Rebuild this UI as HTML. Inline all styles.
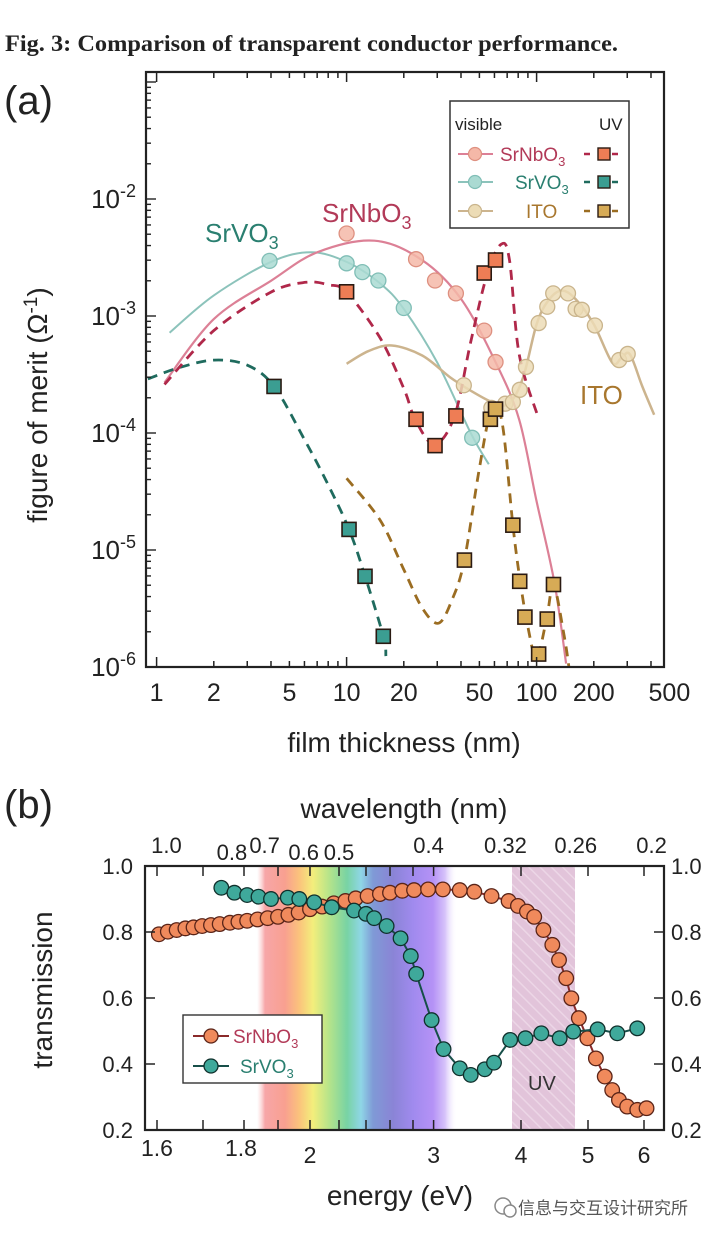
<!DOCTYPE html>
<html><head><meta charset="utf-8"><style>
html,body{margin:0;padding:0;background:#fff;}
svg{display:block;font-family:"Liberation Sans",sans-serif;}
</style></head><body>
<svg id="fig" width="720" height="1240" viewBox="0 0 720 1240" xmlns="http://www.w3.org/2000/svg">
<defs>
<clipPath id="clipA"><rect x="146" y="72" width="518" height="595"/></clipPath>
<clipPath id="clipB"><rect x="145" y="866" width="519" height="264"/></clipPath>
<linearGradient id="spec" x1="0" x2="1" y1="0" y2="0">
<stop offset="0" stop-color="#fbd0d0" stop-opacity="0"/>
<stop offset="0.04" stop-color="#f7a6a8"/>
<stop offset="0.14" stop-color="#f8a090"/>
<stop offset="0.21" stop-color="#fbc27c"/>
<stop offset="0.28" stop-color="#f3ee7c"/>
<stop offset="0.36" stop-color="#b6e48a"/>
<stop offset="0.45" stop-color="#78d3a4"/>
<stop offset="0.52" stop-color="#8fd6e6"/>
<stop offset="0.58" stop-color="#7f9ad6"/>
<stop offset="0.68" stop-color="#8a84d6"/>
<stop offset="0.78" stop-color="#a08aee"/>
<stop offset="0.88" stop-color="#b592f6"/>
<stop offset="0.94" stop-color="#d6c2fa"/>
<stop offset="1" stop-color="#ffffff" stop-opacity="0"/>
</linearGradient>
<pattern id="hatch" width="8" height="8" patternUnits="userSpaceOnUse" patternTransform="rotate(-45)">
<rect width="8" height="8" fill="#e2c4da"/>
<line x1="0" y1="0" x2="0" y2="8" stroke="#ecd6e6" stroke-width="3"/>
</pattern>
</defs>

<text x="5" y="51" font-family="Liberation Serif, serif" font-weight="bold" font-size="23" textLength="613" lengthAdjust="spacingAndGlyphs" fill="#222">Fig. 3: Comparison of transparent conductor performance.</text>
<text x="4" y="114" font-size="40" fill="#222">(a)</text>
<text x="4" y="818" font-size="40" fill="#222">(b)</text>

<g id="panelA"></g>
<g id="panelB"></g>

<g>
<circle cx="503" cy="1206" r="8" fill="none" stroke="#888" stroke-width="1.5"/>
<circle cx="510" cy="1211" r="6" fill="#fff" stroke="#888" stroke-width="1.5"/>
<text x="518" y="1214" font-family="Liberation Sans, Noto Sans CJK SC, sans-serif" font-size="17" fill="#555">信息与交互设计研究所</text>
</g>
</svg>
<script>
// ===== Panel (a) data: film thickness (nm) vs figure of merit =====
const nbVisX=[10,23.2,29.2,37.6,53,60.8];
const nbVisY=[5.07e-3,3.06e-3,2.01e-3,1.56e-3,7.5e-4,4.04e-4];
const nbUvX=[10,23.2,29.2,37.6,53,60.8];
const nbUvY=[1.61e-3,1.31e-4,7.8e-5,1.4e-4,2.33e-3,3.01e-3];
const vVisX=[3.93,10,12.1,14.7,20,45.8];
const vVisY=[2.96e-3,2.82e-3,2.37e-3,2.01e-3,1.17e-3,9.1e-5];
const vUvX=[4.15,10.3,12.5,15.6];
const vUvY=[2.5e-4,1.5e-5,5.96e-6,1.83e-6];
const itoVisX=[41.4,57.8,68.4,75,81.5,87.9,102.5,113.8,122.3,146.3,160.4,173,202.7,271.8,301.7];
const itoVisY=[2.56e-4,1.64e-4,1.78e-4,1.84e-4,2.34e-4,3.67e-4,8.7e-4,1.2e-3,1.56e-3,1.56e-3,1.15e-3,1.13e-3,8.3e-4,4.2e-4,4.74e-4];
const itoUvX=[41.7,57.1,60.8,75,81.5,86.8,102.5,113.8,122.7];
const itoUvY=[8.2e-6,1.31e-4,1.6e-4,1.63e-5,5.4e-6,2.67e-6,1.29e-6,2.57e-6,5.07e-6];
// fitted curves
const fitNbVisX=[1.1,2,4,7,14,25,40,61,81,100,124,143];
const fitNbVisY=[2.7e-4,9.4e-4,2e-3,3.5e-3,4.4e-3,3e-3,1.4e-3,4e-4,1.3e-4,2.6e-5,5.3e-6,1.07e-6];
const fitNbUvX=[1.1,2,4,6.1,8,10,15,20,23,29,37,45,55,65,72,81,102];
const fitNbUvY=[2.6e-4,7.5e-4,1.6e-3,1.94e-3,1.85e-3,1.6e-3,6.5e-4,2.4e-4,1.3e-4,8e-5,1.4e-4,6e-4,2.3e-3,4.1e-3,3e-3,4.7e-4,1.36e-4];
const fitVVisX=[1.17,2,4,6.5,10,15,20,30,45,56];
const fitVVisY=[7.2e-4,1.5e-3,2.9e-3,3.5e-3,2.9e-3,1.9e-3,1.15e-3,4e-4,1e-4,5.4e-5];
const fitVUvX=[0.9,1.3,2,3,4.15,6,8,10.3,12.5,15.6,16.1];
const fitVUvY=[2.9e-4,3.6e-4,4.2e-4,3.8e-4,2.5e-4,8.8e-5,3.6e-5,1.5e-5,6e-6,1.83e-6,1.24e-6];
const fitItoVisX=[10,13,17.3,25,35,45,60,72,85,100,115,135,160,200,250,280,310,360,416];
const fitItoVisY=[3.9e-4,5e-4,5.6e-4,4.6e-4,3e-4,2.3e-4,1.8e-4,1.8e-4,3e-4,8.5e-4,1.35e-3,1.65e-3,1.4e-3,8.5e-4,4e-4,4.4e-4,4.7e-4,2.5e-4,1.43e-4];
const fitItoUvX=[10,15,20,25,30.5,36,41.7,50,58,66,75,82,90,100,113,123,140,148];
const fitItoUvY=[4.1e-5,1.8e-5,6.8e-6,3.2e-6,2.37e-6,3.8e-6,8.2e-6,5e-5,1.6e-4,1.2e-4,1.63e-5,5.4e-6,2.2e-6,1.2e-6,2.6e-6,5e-6,1.8e-6,1e-6];
const xTickLabelsA=[1,2,5,10,20,50,100,200,500];
const yTickExpA=[-2,-3,-4,-5,-6];

// ===== Panel (b) data: energy (eV) vs transmission =====
const nbE=[1.604,1.623,1.642,1.661,1.679,1.698,1.719,1.74,1.765,1.786,1.809,1.839,1.869,1.9,1.932,1.964,2.0,2.081,2.163,2.246,2.322,2.413,2.514,2.6,2.705,2.81,2.945,3.093,3.27,3.43,3.63,3.84,3.96,4.08,4.18,4.31,4.44,4.54,4.65,4.73,4.85,4.99,5.13,5.28,5.41,5.53,5.68,5.87,6.05];
const nbT=[0.793,0.801,0.806,0.811,0.814,0.818,0.821,0.824,0.828,0.831,0.834,0.838,0.842,0.846,0.852,0.859,0.869,0.877,0.887,0.894,0.902,0.909,0.915,0.919,0.925,0.927,0.929,0.929,0.927,0.922,0.909,0.894,0.879,0.862,0.846,0.806,0.761,0.715,0.66,0.599,0.539,0.478,0.417,0.362,0.321,0.291,0.271,0.261,0.266];
const vE=[1.744,1.776,1.809,1.842,1.879,1.93,1.966,2.028,2.148,2.309,2.4,2.466,2.571,2.69,2.78,2.83,2.98,3.1,3.27,3.39,3.55,3.66,3.86,4.06,4.28,4.55,4.76,5.16,5.5,5.87];
const vT=[0.934,0.919,0.912,0.907,0.9,0.904,0.9,0.89,0.875,0.865,0.855,0.842,0.818,0.781,0.727,0.673,0.533,0.445,0.387,0.367,0.384,0.404,0.473,0.478,0.493,0.478,0.498,0.505,0.493,0.508];
const eTicks=[1.6,1.7,1.8,1.9,2,2.2,2.4,2.6,2.8,3,4,5,6];
const eTickLabels=["1.6","1.8","2","3","4","5","6"];
const tTicks=[0.2,0.4,0.6,0.8,1.0];
const wlLabels=["1.0","0.8","0.7","0.6","0.5","0.4","0.32","0.26","0.2"];

const NS="http://www.w3.org/2000/svg";
function mk(parent,tag,attrs){const e=document.createElementNS(NS,tag);for(const k in attrs)e.setAttribute(k,attrs[k]);parent.appendChild(e);return e;}

const ax=v=>156.6+190*Math.log10(v);
const ay=v=>199-117*(Math.log10(v)+2);
const eCal=[157,203,244,278,310,339,366,390,413,433.6,521,588,644];
function bx(E){const L=Math.log(E);for(let i=0;i<eTicks.length-1;i++){const a=Math.log(eTicks[i]),b=Math.log(eTicks[i+1]);if(L<=b||i===eTicks.length-2){return eCal[i]+(L-a)/(b-a)*(eCal[i+1]-eCal[i]);}}}
const by=t=>1130-(t-0.2)*330;

function smooth(pts){let d="M"+pts[0][0].toFixed(1)+","+pts[0][1].toFixed(1);for(let i=0;i<pts.length-1;i++){const p0=pts[Math.max(0,i-1)],p1=pts[i],p2=pts[i+1],p3=pts[Math.min(pts.length-1,i+2)];const c1=[p1[0]+(p2[0]-p0[0])/6,p1[1]+(p2[1]-p0[1])/6],c2=[p2[0]-(p3[0]-p1[0])/6,p2[1]-(p3[1]-p1[1])/6];d+="C"+c1[0].toFixed(1)+","+c1[1].toFixed(1)+" "+c2[0].toFixed(1)+","+c2[1].toFixed(1)+" "+p2[0].toFixed(1)+","+p2[1].toFixed(1);}return d;}

const A=document.getElementById('panelA');
const clipA=mk(A,'g',{'clip-path':'url(#clipA)'});



function curve(xs,ys,color,dash,name,w){const p=mk(clipA,'path',{d:smooth(xs.map((x,i)=>[ax(x),ay(ys[i])])),fill:'none',stroke:color,'stroke-width':w||2.5,'stroke-dasharray':dash||'none'});

}
curve(fitVVisX,fitVVisY,'#8cc3bb',null,'srvo3-visible-fit',2);
curve(fitNbVisX,fitNbVisY,'#dc8096',null,'srnbo3-visible-fit',2.2);
curve(fitItoVisX,fitItoVisY,'#ccb48e',null,'ito-visible-fit',2.5);
curve(fitVUvX,fitVUvY,'#1f6b5e','10,7','srvo3-uv-fit',2.8);
curve(fitNbUvX,fitNbUvY,'#b0284a','10,7','srnbo3-uv-fit',2.8);
curve(fitItoUvX,fitItoUvY,'#9b6d22','10,7','ito-uv-fit',2.8);

function circles(xs,ys,fill,stroke,name){xs.forEach((x,i)=>{const c=mk(clipA,'circle',{cx:ax(x),cy:ay(ys[i]),r:7.5,fill:fill,stroke:stroke,'stroke-width':1.3,'fill-opacity':0.85});

});}
function squares(xs,ys,fill,name){xs.forEach((x,i)=>{const r=mk(clipA,'rect',{x:ax(x)-7,y:ay(ys[i])-7,width:14,height:14,fill:fill,stroke:'#2a1a12','stroke-width':1.6});

});}
circles(itoVisX,itoVisY,'#ecdcb6','#c9b48c','ito-visible-point');
circles(nbVisX,nbVisY,'#f5b8a8','#de9080','srnbo3-visible-point');
circles(vVisX,vVisY,'#aadad2','#80beb6','srvo3-visible-point');
squares(nbUvX,nbUvY,'#ee7d55','srnbo3-uv-point');
squares(vUvX,vUvY,'#3b9e92','srvo3-uv-point');
squares(itoUvX,itoUvY,'#d7ab56','ito-uv-point');

const fa=mk(A,'rect',{x:146,y:72,width:518,height:595,fill:'none',stroke:'#222','stroke-width':2.2});


for(let dec=0;dec<3;dec++){for(let m=1;m<10;m++){const v=m*Math.pow(10,dec);const x=ax(v);if(x>662)continue;const L=(m===1)?10:6;
mk(A,'line',{x1:x,y1:667,x2:x,y2:667-L,stroke:'#222','stroke-width':1.5});
mk(A,'line',{x1:x,y1:72,x2:x,y2:72+L,stroke:'#222','stroke-width':1.5});}}
xTickLabelsA.forEach(v=>{const t=mk(A,'text',{x:ax(v),y:701,'font-size':25,'text-anchor':'middle',fill:'#222'});t.textContent=String(v);

});
for(let e=-6;e<0;e++){for(let m=1;m<10;m++){const v=m*Math.pow(10,e);const y=ay(v);if(y<73)continue;const L=(m===1)?10:5;mk(A,'line',{x1:146,y1:y,x2:146+L,y2:y,stroke:'#222','stroke-width':1.4});}}
yTickExpA.forEach(k=>{const t=mk(A,'text',{x:136,y:ay(Math.pow(10,k))+9,'font-size':26,'text-anchor':'end',fill:'#222'});


const a=mk(t,'tspan',{});a.textContent='10';const b=mk(t,'tspan',{dy:-11,'font-size':18});b.textContent=String(k);});
const xt=mk(A,'text',{x:404,y:752,'font-size':28,'text-anchor':'middle',fill:'#222'});xt.textContent='film thickness (nm)';


const yt=mk(A,'text',{transform:'translate(47,405) rotate(-90)','font-size':28,'text-anchor':'middle',fill:'#222'});


{const a=mk(yt,'tspan',{});a.textContent='figure of merit (Ω';const b=mk(yt,'tspan',{dy:-10,'font-size':19});b.textContent='-1';const c=mk(yt,'tspan',{dy:10});c.textContent=')';}
function lbl(x,y,txt,sub,color,name){const t=mk(A,'text',{x:x,y:y,'font-size':26,fill:color});


const a=mk(t,'tspan',{});a.textContent=txt;if(sub){const b=mk(t,'tspan',{dy:7,'font-size':18});b.textContent=sub;}}
lbl(205,242,'SrVO','3','#2a7f70','srvo3-label');
lbl(322,222,'SrNbO','3','#b23a58','srnbo3-label');
lbl(580,404,'ITO',null,'#a8772e','ito-label');
const lg=mk(A,'g',{});


mk(lg,'rect',{x:450,y:101,width:179,height:127,fill:'#fff',stroke:'#333','stroke-width':1.5});
{const t=mk(lg,'text',{x:455,y:130,'font-size':17,fill:'#222'});t.textContent='visible';const u=mk(lg,'text',{x:599,y:130,'font-size':17,fill:'#222'});u.textContent='UV';}
const legRows=[['SrNbO','3','#dc8096','#f5b8a8','#de9080','#b0284a','#ee7d55','#b23a58',154],['SrVO','3','#8cc3bb','#aadad2','#80beb6','#1f6b5e','#3b9e92','#2a7f70',182],['ITO','','#ccb48e','#ecdcb6','#c9b48c','#9b6d22','#d7ab56','#a8772e',211]];
legRows.forEach(r=>{const y=r[8];const g=mk(lg,'g',{});


mk(g,'line',{x1:458,y1:y,x2:493,y2:y,stroke:r[2],'stroke-width':2});
mk(g,'circle',{cx:475,cy:y,r:6.5,fill:r[3],stroke:r[4],'stroke-width':1.2});
const t=mk(g,'text',{x:r[0]==='ITO'?526:(r[0]==='SrVO'?515:500),y:y+7,'font-size':19,fill:r[7]});const a=mk(t,'tspan',{});a.textContent=r[0];if(r[1]){const b=mk(t,'tspan',{dy:5,'font-size':13});b.textContent=r[1];}
mk(g,'line',{x1:584,y1:y,x2:624,y2:y,stroke:r[5],'stroke-width':2.5,'stroke-dasharray':'6,8'});
mk(g,'rect',{x:598,y:y-6,width:12,height:12,fill:r[6],stroke:'#2a1a12','stroke-width':1.4});});

// ===== Panel b =====
const B=document.getElementById('panelB');
const cb=mk(B,'g',{'clip-path':'url(#clipB)'});


const sp=mk(cb,'rect',{x:257,y:866,width:200,height:264,fill:'url(#spec)'});


const uv=mk(cb,'rect',{x:512,y:866,width:63,height:264,fill:'url(#hatch)'});


{const t=mk(cb,'text',{x:528,y:1090,'font-size':20,fill:'#333'});t.textContent='UV';

}
function series(E,T,line,fill,stroke,name){const d=E.map((e,i)=>(i?'L':'M')+bx(e).toFixed(1)+','+by(T[i]).toFixed(1)).join('');
const p=mk(cb,'path',{d:d,fill:'none',stroke:line,'stroke-width':2});


E.forEach((e,i)=>{const c=mk(cb,'circle',{cx:bx(e),cy:by(T[i]),r:7.3,fill:fill,stroke:stroke,'stroke-width':1.3});

});}
series(nbE,nbT,'#8a2a2a','#f08a5c','#5a2418','srnbo3');
series(vE,vT,'#174f49','#3fa99b','#10302c','srvo3');
const fb=mk(B,'rect',{x:145,y:866,width:519,height:264,fill:'none',stroke:'#222','stroke-width':2.2});


eTicks.forEach(e=>{const x=bx(e);mk(B,'line',{x1:x,y1:1130,x2:x,y2:1120,stroke:'#222','stroke-width':1.5});mk(B,'line',{x1:x,y1:866,x2:x,y2:876,stroke:'#222','stroke-width':1.5});});
eTickLabels.forEach(s=>{const v=parseFloat(s);const low=(v>=2);const t=mk(B,'text',{x:bx(v)+(v===1.8?-3:0),y:low?1163:1156,'font-size':23,'text-anchor':'middle',fill:'#222'});t.textContent=s;

});
tTicks.forEach(v=>{const y=by(v);mk(B,'line',{x1:145,y1:y,x2:155,y2:y,stroke:'#222','stroke-width':1.5});mk(B,'line',{x1:664,y1:y,x2:654,y2:y,stroke:'#222','stroke-width':1.5});
const s=v.toFixed(1);
const l=mk(B,'text',{x:133,y:y+8,'font-size':22,'text-anchor':'end',fill:'#222'});l.textContent=s;


const r=mk(B,'text',{x:671,y:y+8,'font-size':22,fill:'#222'});r.textContent=s;

});
const wlPosE=[1.62,1.77,1.86,1.98,2.2,2.95,3.8,4.8,6.15];
wlLabels.forEach((s,i)=>{const low=(s==='0.8'||s==='0.6'||s==='0.5');const t=mk(B,'text',{x:bx(wlPosE[i]),y:low?860:853,'font-size':22,'text-anchor':'middle',fill:'#222'});t.textContent=s;

});
{const t=mk(B,'text',{x:404,y:818,'font-size':28,'text-anchor':'middle',fill:'#222'});t.textContent='wavelength (nm)';

}
{const t=mk(B,'text',{x:400,y:1205,'font-size':28,'text-anchor':'middle',fill:'#222'});t.textContent='energy (eV)';

}
{const t=mk(B,'text',{transform:'translate(52,990) rotate(-90)','font-size':28,'text-anchor':'middle',fill:'#222'});t.textContent='transmission';

}
const lb=mk(B,'g',{});


mk(lb,'rect',{x:183,y:1015,width:139,height:68,fill:'#fff',stroke:'#333','stroke-width':1.4});
[['SrNbO','#8a2a2a','#f08a5c','#5a2418','#b23a58',1036],['SrVO','#174f49','#3fa99b','#10302c','#2a7f70',1066]].forEach(r=>{const g=mk(lb,'g',{});


mk(g,'line',{x1:193,y1:r[5],x2:229,y2:r[5],stroke:r[1],'stroke-width':2});
mk(g,'circle',{cx:211,cy:r[5],r:7,fill:r[2],stroke:r[3],'stroke-width':1.3});
const t=mk(g,'text',{x:r[0]==='SrVO'?240:233,y:r[5]+7,'font-size':19,fill:r[4]});const a=mk(t,'tspan',{});a.textContent=r[0];const b=mk(t,'tspan',{dy:5,'font-size':13});b.textContent='3';});
</script>
</body></html>
